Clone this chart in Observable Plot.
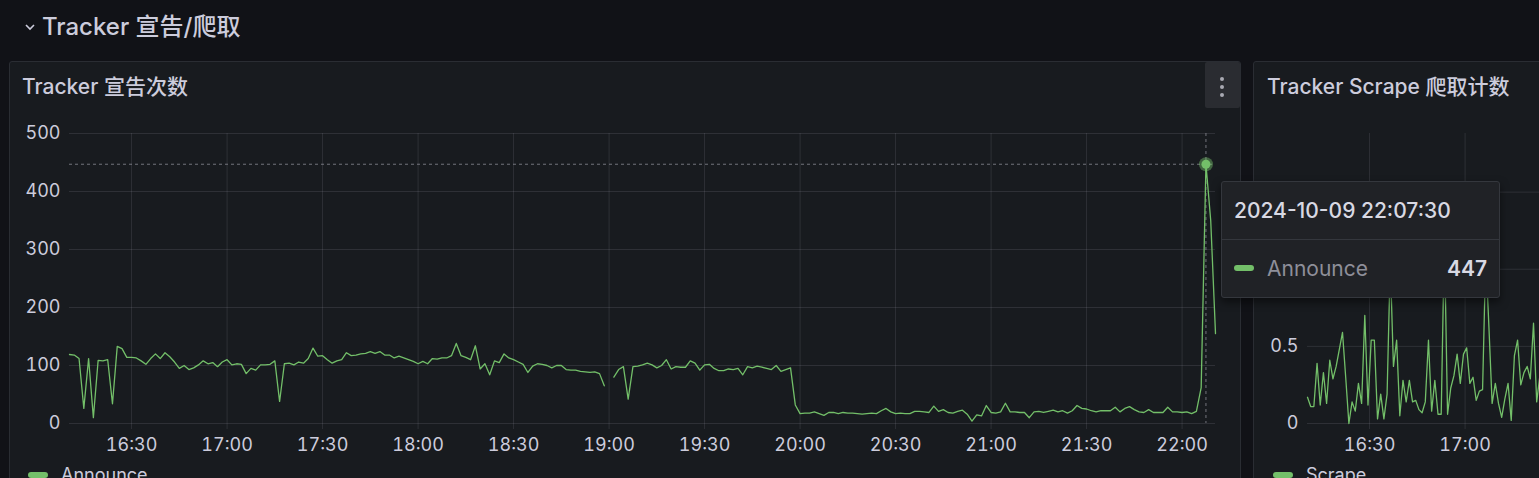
<!DOCTYPE html>
<html><head><meta charset="utf-8">
<script src="https://cdn.jsdelivr.net/npm/d3@7"></script>
<script src="https://cdn.jsdelivr.net/npm/@observablehq/plot@0.6"></script>
<style>
html,body{margin:0;padding:0;background:#111217;width:1539px;height:478px;overflow:hidden;
  font-family:Inter,"Noto Sans CJK SC",sans-serif;color:#ccccdc;}
.abs{position:absolute;}
.panel{position:absolute;top:61px;height:480px;background:#181b1f;border:1px solid #2a2d33;border-radius:3px;box-sizing:border-box;}
.ptitle{position:absolute;font-size:21px;font-weight:500;line-height:26px;white-space:nowrap;color:#ccccdc;}
.pill{position:absolute;width:20px;height:6px;border-radius:3px;background:#73bf69;}
.leg{position:absolute;font-size:18px;line-height:20px;color:#ccccdc;white-space:nowrap;}
#tip{position:absolute;left:1221px;top:181px;width:279px;height:117px;background:#202226;border:1px solid #34373d;border-radius:3px;box-sizing:border-box;box-shadow:0 4px 8px rgba(0,0,0,0.5);}
#c1 svg, #c2 svg{max-width:none !important;}
</style></head><body>
<svg class="abs" style="left:24px;top:23px" width="12" height="10"><polyline points="2,2 6,6 10,2" fill="none" stroke="#ccccdc" stroke-width="1.6"/></svg>
<div class="abs" style="left:42px;top:12px;font-size:24px;font-weight:500;line-height:30px;white-space:nowrap;">Tracker 宣告/爬取</div>

<div class="panel" style="left:9px;width:1232px;"></div>
<div class="ptitle" style="left:22px;top:74px;">Tracker 宣告次数</div>
<div class="abs" style="left:1205px;top:62px;width:35px;height:46px;background:#2a2c31;border-radius:2px;"></div>
<svg class="abs" style="left:1205px;top:62px" width="35" height="46"><circle cx="17" cy="17" r="2" fill="#a8a9b2"/><circle cx="17" cy="25" r="2" fill="#a8a9b2"/><circle cx="17" cy="33" r="2" fill="#a8a9b2"/></svg>

<div class="panel" style="left:1253px;width:400px;"></div>
<div class="ptitle" style="left:1267px;top:74px;">Tracker Scrape 爬取计数</div>

<div id="c1" class="abs" style="left:0;top:110px;width:1240px;"></div>
<div id="c2" class="abs" style="left:1254px;top:110px;width:1224px;"></div>

<div class="pill" style="left:28px;top:472px;"></div>
<div class="leg" style="left:61px;top:465px;">Announce</div>
<div class="pill" style="left:1273px;top:472px;"></div>
<div class="leg" style="left:1306px;top:465px;">Scrape</div>

<div id="tip">
  <div class="abs" style="left:12px;top:16px;font-size:21px;font-weight:500;line-height:26px;color:#d8d9e3;white-space:nowrap;">2024-10-09 22:07:30</div>
  <div class="abs" style="left:0;top:57px;width:277px;height:1px;background:#34373d;"></div>
  <div class="pill" style="left:12px;top:83px;"></div>
  <div class="abs" style="left:45px;top:74px;font-size:21px;line-height:26px;color:#8e8f99;">Announce</div>
  <div class="abs" style="right:12px;top:74px;font-size:21px;font-weight:600;line-height:26px;color:#d8d9e3;">447</div>
</div>

<script>
// Time axis
const startTime = "2024-10-09T16:10:30Z";
const endTime = "2024-10-09T22:10:30Z";
const hoverTime = "2024-10-09T22:07:30Z";
const hoverValue = 447;
const announceStepSec = 90;
const scrapeStepSec = 60;
const xTickTimes = ["16:30","17:00","17:30","18:00","18:30","19:00","19:30","20:00","20:30","21:00","21:30","22:00"];
const scrapeXLabelTimes = ["16:30","17:00"];          // labels visible in the cropped panel
const announceYTicks = [0,100,200,300,400,500];
const scrapeYGrid = [0,0.5,1,1.5];
const scrapeYLabels = [0,0.5];                         // 1 and 1.5 are hidden by the tooltip

// Announce series (one value per 90 s)
const announceValues = [
119,118,112,26,112,10,109,108,110,34,133,129,114,114,113,108,102,112,120,112,
122,115,106,95,100,93,96,101,108,103,105,98,106,110,101,103,102,86,95,92,
101,101,102,108,38,103,104,101,106,104,112,130,116,117,110,104,108,110,122,117,
118,120,121,124,121,124,118,118,113,116,113,110,107,103,107,103,112,111,113,113,
117,138,117,114,110,134,94,103,84,108,105,120,113,110,106,102,88,99,103,102,
100,96,100,100,93,92,92,90,89,88,89,86,65,null,80,93,98,42,98,99,
101,104,101,96,100,110,94,98,97,97,108,104,92,101,102,95,91,91,94,93,
95,84,98,96,99,97,95,93,100,90,93,96,32,17,18,18,20,17,14,19,
19,17,19,18,18,17,16,17,18,17,22,26,20,17,18,17,17,21,21,20,
19,30,21,24,19,18,21,23,16,4,15,13,31,19,18,20,35,20,20,19,
19,10,20,21,19,21,23,20,22,18,22,31,26,25,22,20,22,22,22,28,
20,26,29,24,20,19,24,19,19,19,28,20,20,19,20,17,21,62,447,350,
155];

// Scrape series (one value per 60 s, visible part)
const scrapeValues = [
0.17,0.11,0.11,0.39,0.12,0.33,0.13,0.41,0.29,0.37,
0.48,0.59,0.30,0.0,0.14,0.08,0.26,0.13,0.70,0.12,
0.54,0.54,0.03,0.19,0.03,0.19,1.05,0.37,0.54,0.05,
0.28,0.14,0.28,0.14,0.15,0.09,0.07,0.14,0.54,0.08,
0.28,0.06,0.06,1.2,0.06,0.23,0.31,0.45,0.26,0.45,
0.49,0.26,0.30,0.15,0.21,0.22,1.1,0.62,0.13,0.26,
0.13,0.04,0.16,0.26,0.02,0.44,0.54,0.25,0.33,0.37,
0.29,0.65,0.14,0.31];

const t0 = new Date(startTime), t1 = new Date(endTime), th = new Date(hoverTime);
const announce = announceValues.map((v,i)=>({t:new Date(+t0 + i*announceStepSec*1000), v}));
const scrape = scrapeValues.map((v,i)=>({t:new Date(+t0 + i*scrapeStepSec*1000), v}));
const toDate = s=>new Date("2024-10-09T"+s+":00Z");
const xTicks = xTickTimes.map(toDate);
const scrapeXLabels = scrapeXLabelTimes.map(toDate);
const fmt = d3.utcFormat("%H:%M");
const green = "#73bf69";
const gridC = "#ccccdc", gridO = 0.12;
const font = 'Inter,"Noto Sans CJK SC",sans-serif';

const common = {
  height: 350, marginTop: 23, marginBottom: 37, marginRight: 25,
  style: {background:"transparent", color:"#ccccdc", fontFamily:font, fontSize:"18px", overflow:"visible", maxWidth:"none"}
};

const c1 = Plot.plot({
  ...common, width: 1240, marginLeft: 69,
  x: {type:"utc", domain:[t0,t1], label:null},
  y: {domain:[0,500], label:null},
  marks: [
    Plot.gridY(announceYTicks, {stroke:gridC, strokeOpacity:gridO, strokeWidth:1}),
    Plot.gridX(xTicks, {stroke:gridC, strokeOpacity:gridO, strokeWidth:1}),
    Plot.axisY(announceYTicks, {tickSize:0, tickPadding:9, fill:"#ccccdc", fontSize:18, label:null}),
    Plot.axisX(xTicks, {tickSize:6, tickPadding:9, stroke:gridC, strokeOpacity:gridO, fill:"#ccccdc", tickFormat:fmt, fontSize:18, label:null}),
    Plot.ruleY([hoverValue], {stroke:"#9a9aa4", strokeOpacity:0.7, strokeDasharray:"3,3", strokeWidth:1}),
    Plot.ruleX([th], {stroke:"#9a9aa4", strokeOpacity:0.7, strokeDasharray:"3,3", strokeWidth:1}),
    Plot.lineY(announce, {x:"t", y:"v", stroke:green, strokeWidth:1.3}),
    Plot.dot([{t:th, v:hoverValue}], {x:"t", y:"v", r:7, fill:green, fillOpacity:0.45, stroke:"none"}),
    Plot.dot([{t:th, v:hoverValue}], {x:"t", y:"v", r:4.5, fill:green, stroke:"none"})
  ]
});
document.getElementById("c1").appendChild(c1);

const c2 = Plot.plot({
  ...common, width: 1224, marginLeft: 53,
  x: {type:"utc", domain:[t0,t1], label:null},
  y: {domain:[0,1.88], label:null},
  marks: [
    Plot.gridY(scrapeYGrid, {stroke:gridC, strokeOpacity:gridO, strokeWidth:1}),
    Plot.gridX(xTicks, {stroke:gridC, strokeOpacity:gridO, strokeWidth:1}),
    Plot.axisY(scrapeYLabels, {tickSize:0, tickPadding:9, fill:"#ccccdc", fontSize:18, label:null, tickFormat:d3.format("~g")}),
    Plot.axisX(scrapeXLabels, {tickSize:6, tickPadding:9, stroke:gridC, strokeOpacity:gridO, fill:"#ccccdc", tickFormat:fmt, fontSize:18, label:null}),
    Plot.lineY(scrape, {x:"t", y:"v", stroke:green, strokeWidth:1.3})
  ]
});
document.getElementById("c2").appendChild(c2);
</script>
</body></html>
